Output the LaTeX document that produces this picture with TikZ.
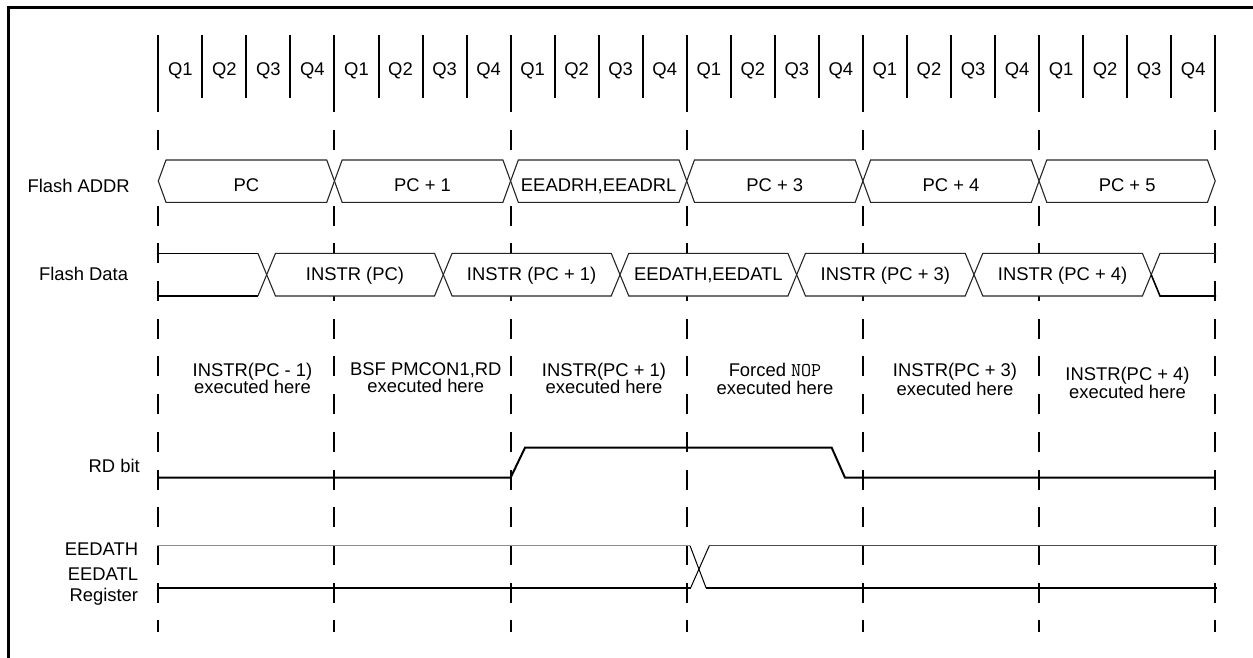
\documentclass[tikz,border=0pt]{standalone}
\usepackage{fontspec}
\setmainfont{Liberation Sans}
\begin{document}
\begin{tikzpicture}[x=1pt,y=-1pt,
  frameline/.style={line width=2.7pt},
  qline/.style={line width=2pt},
  cyc/.style={line width=2pt, dash pattern=on 20pt off 17.7pt},
  bus/.style={line width=1.1pt, line join=miter, draw=black!85},
  busfill/.style={bus, fill=white},
  busflat/.style={line width=1.6pt},
  sig/.style={line width=2pt, line join=miter},
  thinsig/.style={line width=1pt, draw=black!45},
  txt/.style={font=\fontsize{18.4}{17}\selectfont, inner sep=0pt, anchor=base},
  side/.style={font=\fontsize{18.4}{17}\selectfont, inner sep=0pt, anchor=base east}
]
\useasboundingbox (0,0) rectangle (1253,658);
% frame
\draw[frameline] (8.3,662) -- (8.3,7.3) -- (1256,7.3);

% quarter lines and labels
\foreach \k in {0,...,24} \draw[qline] ({158.3+44.04*\k},35) -- ({158.3+44.04*\k},98);
\foreach \k in {0,...,23} {
  \pgfmathtruncatemacro\q{mod(\k,4)+1}
  \node[txt] (q\k) at ({180.3+44.04*\k},75.5) {Q\q};
}
% cycle boundaries
\foreach \i in {0,...,6} \draw[cyc] ({158.3+176.15*\i},92.5) -- ({158.3+176.15*\i},632);

% Flash ADDR
\node[side] (laddr) at (130,192) {Flash ADDR};
\fill[white] (157,160) rectangle (1217,202.3);
\foreach \i/\t in {0/PC,1/PC + 1,2/{EEADRH,EEADRL},3/PC + 3,4/PC + 4,5/PC + 5} {
  \pgfmathsetmacro\L{158.3+176.15*\i}
  \pgfmathsetmacro\R{158.3+176.15*(\i+1)}
  \draw[busfill] (\L,181) -- (\L+7.7,160) -- (\R-7.7,160) -- (\R,181) -- (\R-7.7,202.3) -- (\L+7.7,202.3) -- cycle;
  \node[txt] (addr\i) at ({(\L+\R)/2},191.5) {\t};
}

% Flash Data
\node[side] (ldata) at (128.3,280) {Flash Data};
\draw[busflat] (157,253.3) -- (257.9,253.3);
\draw[busflat] (157,296) -- (257.9,296);
\draw[bus] (257.9,253.3) -- (266.7,274.7) -- (257.9,296);
\foreach \a/\b/\t [count=\j] in {266.7/443.3/INSTR (PC),443.3/620/INSTR (PC + 1),620/796.7/{EEDATH,EEDATL},796.7/974/INSTR (PC + 3),974/1151.2/INSTR (PC + 4)} {
  \draw[busfill] (\a,274.7) -- (\a+8.8,253.3) -- (\b-8.8,253.3) -- (\b,274.7) -- (\b-8.8,296) -- (\a+8.8,296) -- cycle;
  \node[txt] (data\j) at ({(\a+\b)/2},280) {\t};
}
\draw[bus] (1151.2,274.7) -- (1160,253.3) -- (1216,253.3);
\draw[busflat] (1151.2,274.7) -- (1160,296) -- (1216,296);

% executed labels
\node[txt] (ex0a) at (252.5,376.5) {INSTR(PC - 1)};
\node[txt] (ex0b) at (252.5,393.3) {executed here};
\node[txt] (ex1a) at (425.8,375) {BSF PMCON1,RD};
\node[txt] (ex1b) at (425.8,392.5) {executed here};
\node[txt] (ex2a) at (604,376.5) {INSTR(PC + 1)};
\node[txt] (ex2b) at (604,393.3) {executed here};
\node[txt] (ex3a) at (775,376.7) {Forced {\ttfamily\fontsize{19.5}{17}\selectfont NOP}};
\node[txt] (ex3b) at (775,394.3) {executed here};
\node[txt] (ex4a) at (955,376.7) {INSTR(PC + 3)};
\node[txt] (ex4b) at (955,395) {executed here};
\node[txt] (ex5a) at (1127.5,380) {INSTR(PC + 4)};
\node[txt] (ex5b) at (1127.5,398) {executed here};

% RD bit
\node[side] (lrd) at (140,472) {RD bit};
\draw[sig] (158.3,477.7) -- (510.6,477.7) -- (525,447.7) -- (831.7,447.7) -- (845,477.7) -- (1215.2,477.7);

% EEDATH / EEDATL register
\node[side] (lr1) at (138.3,555) {EEDATH};
\node[side] (lr2) at (138.3,580) {EEDATL};
\node[side] (lr3) at (138.3,601.5) {Register};
\draw[thinsig] (156.7,545.7) -- (690,545.7);
\draw[line width=1.3pt, draw=black!70] (709.3,545.7) -- (1217.3,545.7);
\draw[sig] (156.7,587.7) -- (690.7,587.7);
\draw[sig] (706,587.7) -- (1217.3,587.7);
\draw[line width=1pt] (690,545.7) -- (706,587.7);
\draw[line width=1pt] (690.7,587.7) -- (709.3,545.7);
\end{tikzpicture}
\end{document}
